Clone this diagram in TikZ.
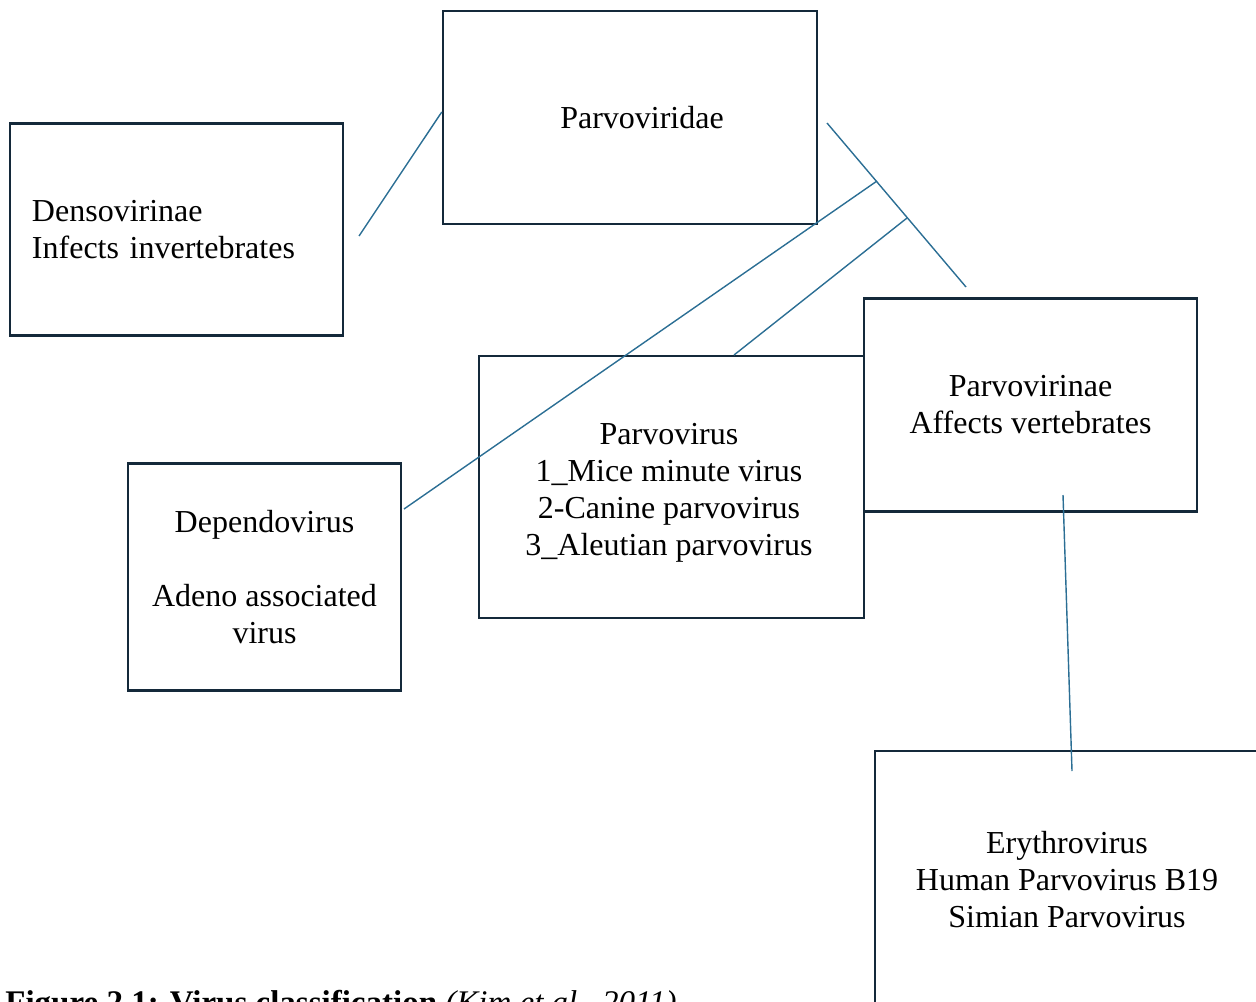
\documentclass[tikz,border=0pt]{standalone}
\usepackage{fontspec}
\setmainfont{Liberation Serif}
\definecolor{boxline}{HTML}{14293A}
\definecolor{linkline}{HTML}{2B6E94}
\tikzset{
  taxon/.style={draw=boxline, line width=1.25pt, align=center, inner sep=0pt,
    font=\fontsize{16}{18.5}\selectfont},
  taxtext/.style={align=center, inner sep=0pt, font=\fontsize{16}{18.5}\selectfont},
  link/.style={draw=linkline, line width=0.7pt}
}
\begin{document}
\begin{tikzpicture}[x=0.5pt, y=-0.5pt]
  \useasboundingbox (0,0) rectangle (1256,1001);

  % Taxa boxes
  \node[taxon, minimum width=187pt, minimum height=106.5pt] (viridae) at (630,117.5) {};
  \node[taxtext] (viridae text) at (642,118) {Parvoviridae};
  \node[taxon, minimum width=166.5pt, minimum height=106pt, align=left, text width=144.5pt, inner xsep=11pt] (denso) at (176.5,229.5)
    {Densovirinae\\Infects invertebrates};
  \node[taxon, minimum width=166.5pt, minimum height=106.5pt] (virinae) at (1030.5,405)
    {Parvovirinae\\Affects vertebrates};
  \node[taxon, minimum width=192.5pt, minimum height=131pt] (parvo) at (671.5,487) {};
  \node[taxtext] (parvo text) at (669,493)
    {Parvovirus\\1\_Mice minute virus\\2-Canine parvovirus\\3\_Aleutian parvovirus};
  \node[taxon, minimum width=136.5pt, minimum height=113.5pt] (dependo) at (264.5,577)
    {Dependovirus\\[18.5pt]Adeno associated\\virus};
  \node[taxon, minimum width=192pt, minimum height=129pt] (erythro) at (1067,880)
    {Erythrovirus\\Human Parvovirus B19\\Simian Parvovirus};

  % Connector ends
  \coordinate (denso end) at (359,236);
  \coordinate (viridae left) at (viridae.west |- 0,112);
  \coordinate (branch top) at (827,123);
  \coordinate (branch a) at (877,181);
  \coordinate (branch b) at (907,218);
  \coordinate (branch bottom) at (966,287);
  \coordinate (dependo right) at (404,509);
  \coordinate (parvo top) at (734,355);
  \coordinate (virinae low) at (1063,495);
  \coordinate (erythro top) at (1072,771);

  % Connectors
  \draw[link] (denso end) -- (viridae left);
  \draw[link] (branch top) -- (branch bottom);
  \draw[link] (branch a) -- (dependo right);
  \draw[link] (branch b) -- (parvo top);
  \draw[link] (virinae low) -- (erythro top);

  % Caption (cut by the page edge)
  \node[anchor=base west, inner sep=0pt, font=\fontsize{16.5}{18.5}\selectfont] (caption) at (5,1013)
    {\textbf{Figure 2.1: Virus classification} \textit{(Kim et al., 2011)}};
\end{tikzpicture}
\end{document}
